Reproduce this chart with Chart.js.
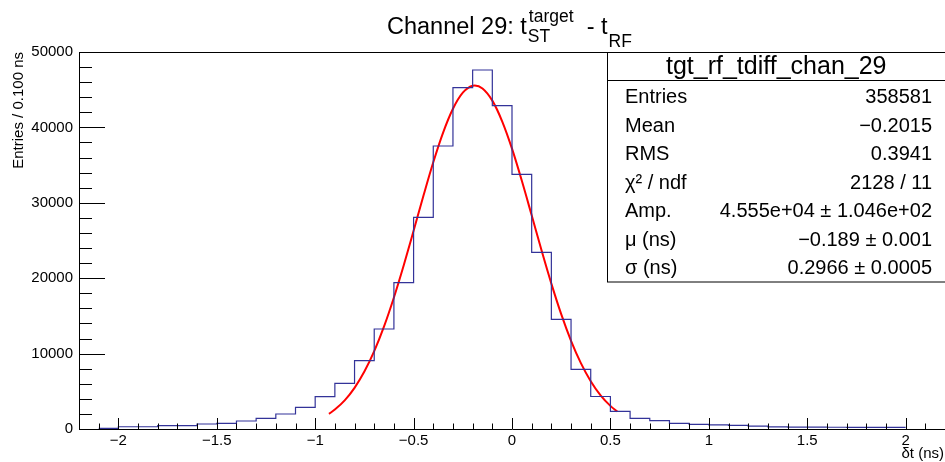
<!DOCTYPE html>
<html>
<head>
<meta charset="utf-8">
<title>Channel 29</title>
<script src="https://cdn.jsdelivr.net/npm/chart.js@4/dist/chart.umd.min.js"></script>
<style>
    html, body { margin: 0; padding: 0; background: #fff; }
    #chart { display: block; }
</style>
</head>
<body>
<canvas id="chart" width="945" height="462"></canvas>
<script>
// Histogram bin lower edges (0.1 ns wide) plus the final upper edge
var BIN_EDGES = [
    -2.1, -2.0, -1.9, -1.8, -1.7, -1.6, -1.5, -1.4, -1.3, -1.2, -1.1,
    -1.0, -0.9, -0.8, -0.7, -0.6, -0.5, -0.4, -0.3, -0.2, -0.1,
    0.0, 0.1, 0.2, 0.3, 0.4, 0.5, 0.6, 0.7, 0.8, 0.9,
    1.0, 1.1, 1.2, 1.3, 1.4, 1.5, 1.6, 1.7, 1.8, 1.9, 2.0
];
var BIN_COUNTS = [
    90, 300, 300, 440, 440, 660, 750, 1060, 1410, 1990, 2870,
    4290, 6060, 9060, 13260, 19410, 28070, 37530, 45270, 47610, 42880,
    33780, 23430, 14550, 7910, 4310, 2350, 1410, 1100, 750, 620,
    540, 480, 380, 280, 250, 240, 230, 220, 220, 210
];

// Gaussian fit curve
var FIT_X = [
    -0.93, -0.9, -0.85, -0.8, -0.75, -0.7, -0.65, -0.6, -0.55, -0.5,
    -0.45, -0.4, -0.35, -0.3, -0.25, -0.2, -0.189, -0.15, -0.1, -0.05,
    0.0, 0.05, 0.1, 0.15, 0.2, 0.25, 0.3, 0.35, 0.4, 0.45, 0.5, 0.535
];
var FIT_Y = [
    2010, 2580, 3800, 5460, 7620, 10330, 13610, 17440, 21720, 26290,
    30930, 35370, 39310, 42470, 44600, 45520, 45550, 45160, 43550, 40810,
    37180, 32920, 28340, 23700, 19280, 15230, 11700, 8740, 6340, 4470, 3070, 2320
];

var X_TICKS = [-2, -1.5, -1, -0.5, 0, 0.5, 1, 1.5, 2];
var X_TICK_LABELS = ['\u22122', '\u22121.5', '\u22121', '\u22120.5', '0', '0.5', '1', '1.5', '2'];
var X_MINOR_TICKS = [
    -2.1, -1.9, -1.8, -1.7, -1.6, -1.4, -1.3, -1.2, -1.1, -0.9, -0.8, -0.7, -0.6,
    -0.4, -0.3, -0.2, -0.1, 0.1, 0.2, 0.3, 0.4, 0.6, 0.7, 0.8, 0.9,
    1.1, 1.2, 1.3, 1.4, 1.6, 1.7, 1.8, 1.9, 2.1
];
var Y_TICKS = [0, 10000, 20000, 30000, 40000, 50000];
var Y_TICK_LABELS = ['0', '10000', '20000', '30000', '40000', '50000'];
var Y_MINOR_TICKS = [
    2000, 4000, 6000, 8000, 12000, 14000, 16000, 18000, 22000, 24000, 26000, 28000,
    32000, 34000, 36000, 38000, 42000, 44000, 46000, 48000
];

var STATS_NAME = 'tgt_rf_tdiff_chan_29';
var STATS_LABELS = ['Entries', 'Mean', 'RMS', '\u03c7\u00b2 / ndf', 'Amp.', '\u03bc (ns)', '\u03c3 (ns)'];
var STATS_VALUES = [
    '358581', '\u22120.2015', '0.3941', '2128 / 11',
    '4.555e+04 \u00b1 1.046e+02', '\u22120.189 \u00b1 0.001', '0.2966 \u00b1 0.0005'
];

(function () {
    'use strict';

    var FONT = '"Liberation Sans", Arial, Helvetica, sans-serif';
    var HIST_COLOR = '#333399';

    function font(size) {
        return size + 'px ' + FONT;
    }

    var histPoints = [];
    for (var i = 0; i < BIN_EDGES.length; i++) {
        var c = i < BIN_COUNTS.length ? BIN_COUNTS[i] : BIN_COUNTS[BIN_COUNTS.length - 1];
        histPoints.push({ x: BIN_EDGES[i], y: c });
    }
    var fitPoints = [];
    for (var j = 0; j < FIT_X.length; j++) {
        fitPoints.push({ x: FIT_X[j], y: FIT_Y[j] });
    }

    // draw a run of text pieces left to right, returns the new pen position
    function drawRuns(ctx, runs, x) {
        for (var k = 0; k < runs.length; k++) {
            var r = runs[k];
            ctx.font = font(r.size);
            ctx.fillText(r.text, x + (r.dx || 0), r.y);
            if (!r.noAdvance) {
                x += (r.dx || 0) + ctx.measureText(r.text).width;
            }
        }
        return x;
    }

    var rootStyle = {
        id: 'rootStyle',
        afterDatasetsDraw: function (chart) {
            var ctx = chart.ctx;
            var area = chart.chartArea;
            var xs = chart.scales.x;
            var ys = chart.scales.y;
            var k, p;

            ctx.save();
            ctx.strokeStyle = '#000';
            ctx.lineWidth = 1;

            // frame top
            ctx.beginPath();
            ctx.moveTo(area.left, area.top + 0.5);
            ctx.lineTo(area.right, area.top + 0.5);
            ctx.stroke();

            // y ticks pointing inwards
            ctx.beginPath();
            for (k = 0; k < Y_TICKS.length; k++) {
                p = Math.round(ys.getPixelForValue(Y_TICKS[k])) + 0.5;
                ctx.moveTo(area.left, p);
                ctx.lineTo(area.left + 26, p);
            }
            for (k = 0; k < Y_MINOR_TICKS.length; k++) {
                p = Math.round(ys.getPixelForValue(Y_MINOR_TICKS[k])) + 0.5;
                ctx.moveTo(area.left, p);
                ctx.lineTo(area.left + 13, p);
            }
            // x ticks pointing up
            for (k = 0; k < X_TICKS.length; k++) {
                p = Math.round(xs.getPixelForValue(X_TICKS[k])) + 0.5;
                ctx.moveTo(p, area.bottom);
                ctx.lineTo(p, area.bottom - 11);
            }
            for (k = 0; k < X_MINOR_TICKS.length; k++) {
                p = Math.round(xs.getPixelForValue(X_MINOR_TICKS[k])) + 0.5;
                ctx.moveTo(p, area.bottom);
                ctx.lineTo(p, area.bottom - 5.5);
            }
            ctx.stroke();

            // stats box
            var bx = 607.5;
            var by = area.top + 0.5;
            var bw = 945 - bx + 2;
            var bh = 282 - by;
            ctx.fillStyle = '#fff';
            ctx.fillRect(bx, by, bw, bh);
            ctx.strokeRect(bx, by, bw, bh);
            ctx.beginPath();
            ctx.moveTo(bx, 80.5);
            ctx.lineTo(945, 80.5);
            ctx.stroke();

            ctx.fillStyle = '#000';
            ctx.textBaseline = 'alphabetic';
            ctx.textAlign = 'center';
            ctx.font = font(25);
            ctx.fillText(STATS_NAME, (bx + 945) / 2, 73.5);

            ctx.font = font(20);
            for (k = 0; k < STATS_LABELS.length; k++) {
                var base = 103 + k * 28.5;
                ctx.textAlign = 'left';
                ctx.fillText(STATS_LABELS[k], 625, base);
                ctx.textAlign = 'right';
                ctx.fillText(STATS_VALUES[k], 932, base);
            }

            // title
            ctx.textAlign = 'left';
            var x = 387;
            x = drawRuns(ctx, [
                { text: 'Channel 29: t', size: 23.5, y: 34 }
            ], x);
            drawRuns(ctx, [{ text: 'target', size: 17.5, y: 22, dx: 2, noAdvance: true }], x);
            x = drawRuns(ctx, [{ text: 'ST', size: 17.5, y: 41.5, dx: 1 }], x);
            x = drawRuns(ctx, [
                { text: ' - t', size: 23.5, y: 34, dx: 30 },
                { text: 'RF', size: 17.5, y: 46.5, dx: 1 }
            ], x);

            // axis titles
            ctx.font = font(15);
            ctx.textAlign = 'right';
            ctx.fillText('\u03b4t (ns)', 944, 458);

            ctx.translate(23, area.top);
            ctx.rotate(-Math.PI / 2);
            ctx.textAlign = 'right';
            ctx.fillText('Entries / 0.100 ns', 0, 0);
            ctx.restore();
        }
    };

    function boot() {
        var canvas = document.getElementById('chart');
        new Chart(canvas, {
            type: 'line',
            data: {
                datasets: [
                    {
                        label: STATS_NAME,
                        data: histPoints,
                        borderColor: HIST_COLOR,
                        borderWidth: 1.2,
                        pointRadius: 0,
                        fill: false,
                        stepped: 'before'
                    },
                    {
                        label: 'gaus fit',
                        data: fitPoints,
                        borderColor: '#ff0000',
                        borderWidth: 2,
                        pointRadius: 0,
                        fill: false,
                        cubicInterpolationMode: 'monotone'
                    }
                ]
            },
            options: {
                responsive: false,
                animation: false,
                devicePixelRatio: 1,
                layout: { padding: { top: 52, left: 0, right: 0, bottom: 0 } },
                plugins: {
                    legend: { display: false },
                    tooltip: { enabled: false },
                    title: { display: false }
                },
                scales: {
                    x: {
                        type: 'linear',
                        min: -2.2,
                        max: 2.2,
                        afterBuildTicks: function (scale) {
                            scale.ticks = X_TICKS.map(function (v) { return { value: v }; });
                        },
                        afterFit: function (scale) {
                            scale.height = 33;
                        },
                        ticks: {
                            autoSkip: false,
                            maxRotation: 0,
                            padding: 3,
                            color: '#000',
                            font: { family: FONT, size: 15 },
                            callback: function (v) {
                                var idx = X_TICKS.indexOf(v);
                                return idx >= 0 ? X_TICK_LABELS[idx] : '';
                            }
                        },
                        grid: { display: false, drawTicks: false },
                        border: { display: true, color: '#000', width: 1 }
                    },
                    y: {
                        type: 'linear',
                        min: 0,
                        max: 50000,
                        afterBuildTicks: function (scale) {
                            scale.ticks = Y_TICKS.map(function (v) { return { value: v }; });
                        },
                        afterFit: function (scale) {
                            scale.width = 79;
                        },
                        ticks: {
                            autoSkip: false,
                            padding: 6,
                            color: '#000',
                            font: { family: FONT, size: 15 },
                            callback: function (v) {
                                var idx = Y_TICKS.indexOf(v);
                                return idx >= 0 ? Y_TICK_LABELS[idx] : '';
                            }
                        },
                        grid: { display: false, drawTicks: false },
                        border: { display: true, color: '#000', width: 1 }
                    }
                }
            },
            plugins: [rootStyle]
        });
    }

    if (document.readyState === 'loading') {
        document.addEventListener('DOMContentLoaded', boot);
    } else {
        boot();
    }
})();
</script>
</body>
</html>
